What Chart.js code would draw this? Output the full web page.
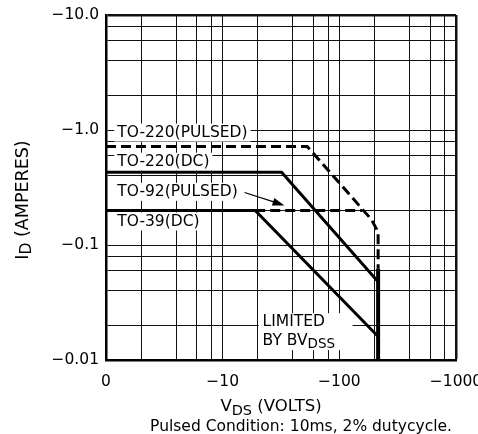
<!DOCTYPE html>
<html>
<head>
<meta charset="utf-8">
<script src="https://cdn.jsdelivr.net/npm/chart.js@4.4.1/dist/chart.umd.min.js"></script>
<style>
html, body { margin: 0; padding: 0; background: #fff; }
#wrap { width: 478px; height: 434px; }
</style>
</head>
<body>
<div id="wrap"><canvas id="soa"></canvas></div>
<script>
// magnitudes, drawn with a minus sign on the axes
var xTicks = [1, 2, 4, 6, 8, 10, 20, 40, 60, 80, 100, 200, 400, 600, 800, 1000];
var yTicks = [0.01, 0.02, 0.04, 0.06, 0.08, 0.1, 0.2, 0.4, 0.6, 0.8, 1, 2, 4, 6, 8, 10];
var xTickLabels = {1: '0', 10: '\u221210', 100: '\u2212100', 1000: '\u22121000'};
var yTickLabels = {0.01: '\u22120.01', 0.1: '\u22120.1', 1: '\u22121.0', 10: '\u221210.0'};

var to220PulsedV = [1, 53, 188, 215, 215];
var to220PulsedI = [0.72, 0.72, 0.167, 0.13, 0.062];
var to220DcV = [1, 32, 215];
var to220DcI = [0.43, 0.43, 0.048];
var to92PulsedV = [19, 157];
var to92PulsedI = [0.2, 0.2];
var to39DcV = [1, 19, 215];
var to39DcI = [0.2, 0.2, 0.016];
var bvdssV = [215, 215];
var bvdssI = [0.062, 0.01];

var FONT = '"DejaVu Sans", sans-serif';

function pts(xs, ys) {
	return xs.map(function(x, i) { return {x: x, y: ys[i]}; });
}

function line(xs, ys, dashed, width) {
	return {
		data: pts(xs, ys),
		showLine: true,
		borderColor: '#000',
		borderWidth: width || 3,
		borderDash: dashed ? [10, 5] : [],
		pointRadius: 0,
		fill: false,
		tension: 0
	};
}

// text made of pieces, some of them subscript
function drawParts(ctx, parts, x, y, size) {
	var total = 0;
	parts.forEach(function(p) {
		ctx.font = (p.sub ? size - 2 : size) + 'px ' + FONT;
		p.w = ctx.measureText(p.t).width;
		total += p.w;
	});
	var cx = x - total / 2;
	parts.forEach(function(p) {
		ctx.font = (p.sub ? size - 2 : size) + 'px ' + FONT;
		ctx.fillText(p.t, cx, y + (p.sub ? 4 : 0));
		cx += p.w;
	});
}

var notes = {
	id: 'notes',
	beforeDatasetsDraw: function(chart) {
		var ctx = chart.ctx, xs = chart.scales.x, ys = chart.scales.y;
		var labels = [
			{t: 'TO-220(PULSED)', v: 1.25, i: 0.95},
			{t: 'TO-220(DC)', v: 1.25, i: 0.53},
			{t: 'TO-92(PULSED)', v: 1.25, i: 0.29},
			{t: 'TO-39(DC)', v: 1.25, i: 0.16}
		];
		ctx.save();
		ctx.font = '15.5px ' + FONT;
		ctx.textBaseline = 'middle';
		ctx.textAlign = 'left';
		labels.forEach(function(l) {
			var px = xs.getPixelForValue(l.v), py = ys.getPixelForValue(l.i);
			var w = ctx.measureText(l.t).width;
			ctx.fillStyle = '#fff';
			ctx.fillRect(px - 3, py - 9, w + 6, 18);
			ctx.fillStyle = '#000';
			ctx.fillText(l.t, px, py);
		});
		// limited by BVdss
		var lx = xs.getPixelForValue(22), ly1 = ys.getPixelForValue(0.0213), ly2 = ys.getPixelForValue(0.0146);
		ctx.fillStyle = '#fff';
		ctx.fillRect(lx - 4, ly1 - 9, 94, ly2 - ly1 + 18);
		ctx.fillStyle = '#000';
		ctx.fillText('LIMITED', lx, ly1);
		ctx.fillText('BY BV', lx, ly2);
		var bw = ctx.measureText('BY BV').width;
		ctx.font = '13.5px ' + FONT;
		ctx.fillText('DSS', lx + bw, ly2 + 3);
		ctx.restore();
	},
	afterDatasetsDraw: function(chart) {
		var ctx = chart.ctx, xs = chart.scales.x, ys = chart.scales.y;
		// arrow from the TO-92 label to its dashed line
		var x1 = xs.getPixelForValue(15.4), y1 = ys.getPixelForValue(0.286);
		var x2 = xs.getPixelForValue(33.9), y2 = ys.getPixelForValue(0.221);
		var a = Math.atan2(y2 - y1, x2 - x1);
		ctx.save();
		ctx.strokeStyle = '#000';
		ctx.fillStyle = '#000';
		ctx.lineWidth = 1.2;
		ctx.beginPath();
		ctx.moveTo(x1, y1);
		ctx.lineTo(x2 - 8 * Math.cos(a), y2 - 8 * Math.sin(a));
		ctx.stroke();
		ctx.beginPath();
		ctx.moveTo(x2, y2);
		ctx.lineTo(x2 - 12 * Math.cos(a) + 4 * Math.sin(a), y2 - 12 * Math.sin(a) - 4 * Math.cos(a));
		ctx.lineTo(x2 - 12 * Math.cos(a) - 4 * Math.sin(a), y2 - 12 * Math.sin(a) + 4 * Math.cos(a));
		ctx.closePath();
		ctx.fill();
		ctx.restore();
	},
	afterDraw: function(chart) {
		var ctx = chart.ctx;
		ctx.save();
		ctx.fillStyle = '#000';
		ctx.textAlign = 'left';
		ctx.textBaseline = 'middle';
		drawParts(ctx, [{t: 'V'}, {t: 'DS', sub: true}, {t: ' (VOLTS)'}], 271, 407, 16.5);
		ctx.textAlign = 'center';
		ctx.font = '15.5px ' + FONT;
		ctx.fillText('Pulsed Condition: 10ms, 2% dutycycle.', 301, 427);
		ctx.translate(23, 200);
		ctx.rotate(-Math.PI / 2);
		ctx.textAlign = 'left';
		drawParts(ctx, [{t: 'I'}, {t: 'D', sub: true}, {t: ' (AMPERES)'}], 0, 0, 17.5);
		ctx.restore();
	}
};

var ctx = document.getElementById('soa');
var chart = new Chart(ctx, {
	type: 'scatter',
	data: {
		datasets: [
			line(to220PulsedV, to220PulsedI, true),
			line(to220DcV, to220DcI, false),
			line(to92PulsedV, to92PulsedI, true),
			line(to39DcV, to39DcI, false),
			line(bvdssV, bvdssI, false, 4)
		]
	},
	options: {
		responsive: true,
		maintainAspectRatio: false,
		animation: false,
		layout: { padding: { top: 15, right: 22, left: 0, bottom: 0 } },
		plugins: {
			legend: { display: false },
			tooltip: { enabled: false }
		},
		scales: {
			x: {
				type: 'logarithmic',
				min: 1,
				max: 1000,
				afterBuildTicks: function(scale) {
					scale.ticks = xTicks.map(function(v) { return {value: v}; });
				},
				afterFit: function(scale) {
					scale.height = 74;
					scale.paddingLeft = 0;
					scale.paddingRight = 0;
				},
				ticks: {
					autoSkip: false,
					maxRotation: 0,
					padding: 13,
					color: '#000',
					font: { family: 'DejaVu Sans', size: 15.5 },
					callback: function(v) { return xTickLabels[v] || ''; }
				},
				grid: {
					color: '#111',
					lineWidth: function(c) { return c.tick && c.tick.value === 1000 ? 2.5 : 1; },
					drawTicks: false
				},
				border: { display: true, color: '#000', width: 2.5 }
			},
			y: {
				type: 'logarithmic',
				min: 0.01,
				max: 10,
				afterBuildTicks: function(scale) {
					scale.ticks = yTicks.map(function(v) { return {value: v}; });
				},
				afterFit: function(scale) {
					scale.width = 106;
					scale.paddingTop = 0;
					scale.paddingBottom = 0;
				},
				ticks: {
					autoSkip: false,
					padding: 7,
					color: '#000',
					font: { family: 'DejaVu Sans', size: 15.5 },
					callback: function(v) { return yTickLabels[v] || ''; }
				},
				grid: {
					color: '#111',
					lineWidth: function(c) { return c.tick && c.tick.value === 10 ? 2.5 : 1; },
					drawTicks: false
				},
				border: { display: true, color: '#000', width: 2.5 }
			}
		}
	},
	plugins: [notes]
});
</script>
</body>
</html>
